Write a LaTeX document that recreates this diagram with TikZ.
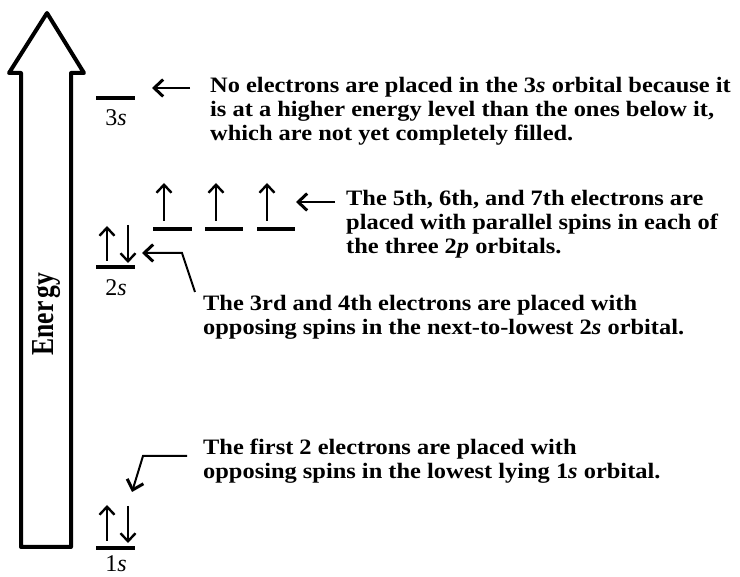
\documentclass[tikz,border=0pt]{standalone}
\usepackage{fontspec}
\setmainfont{Liberation Serif}
\newfontfamily\wtxt[FakeStretch=1.11]{Liberation Serif}
\usetikzlibrary{arrows.meta}
\begin{document}
\begin{tikzpicture}[x=1pt,y=-1pt,
  level/.style={line width=4pt},
  elec/.style={line width=2pt,-{Straight Barb[length=8pt,width=15pt,line width=2.4pt]}},
  ptr/.style={line width=2pt,line join=miter,-{Straight Barb[length=9pt,width=17pt,line width=3pt]}},
  txt/.style={font=\wtxt\bfseries\fontsize{22}{24}\selectfont, align=left, anchor=north west, inner sep=0pt},
  lab/.style={font=\fontsize{24}{26}\selectfont, anchor=base, inner sep=0pt}]
\useasboundingbox (0,0) rectangle (740,577);
% big energy arrow
\draw[line width=4pt, line join=round] (21,547) -- (21,73) -- (9,73) -- (47,13) -- (84,73) -- (71,73) -- (71,547) -- cycle;
\node[rotate=90, anchor=base, inner sep=0pt, font=\bfseries\fontsize{32}{32}\selectfont] (en) at (53,314) {\scalebox{0.8}[1]{Ener\hspace{4pt}gy}};
% levels
\coordinate (l3a) at (96,98);  \coordinate (l3b) at (135,98);
\coordinate (l2a) at (96,267); \coordinate (l2b) at (135,267);
\coordinate (l1a) at (96,548); \coordinate (l1b) at (135,548);
\coordinate (pa1) at (153,229); \coordinate (pb1) at (192,229);
\coordinate (pa2) at (205,229); \coordinate (pb2) at (243,229);
\coordinate (pa3) at (257,229); \coordinate (pb3) at (295,229);
\draw[level] (l3a) -- (l3b);
\draw[level] (l2a) -- (l2b);
\draw[level] (l1a) -- (l1b);
\draw[level] (pa1) -- (pb1);
\draw[level] (pa2) -- (pb2);
\draw[level] (pa3) -- (pb3);
\node[lab] (n3s) at (116,126) {3\textit{s}};
\node[lab] (n2s) at (116,296) {2\textit{s}};
\node[lab] (n1s) at (116,572) {1\textit{s}};
% electrons
\coordinate (e2u0) at (107,261); \coordinate (e2u1) at (107,226);
\coordinate (e2d0) at (128,225); \coordinate (e2d1) at (128,263);
\coordinate (e1u0) at (107,541); \coordinate (e1u1) at (107,505);
\coordinate (e1d0) at (128,506); \coordinate (e1d1) at (128,543);
\coordinate (p1u0) at (164,221); \coordinate (p1u1) at (164,183);
\coordinate (p2u0) at (216,221); \coordinate (p2u1) at (216,183);
\coordinate (p3u0) at (267,221); \coordinate (p3u1) at (267,183);
\draw[elec] (e2u0) -- (e2u1);
\draw[elec] (e2d0) -- (e2d1);
\draw[elec] (e1u0) -- (e1u1);
\draw[elec] (e1d0) -- (e1d1);
\draw[elec] (p1u0) -- (p1u1);
\draw[elec] (p2u0) -- (p2u1);
\draw[elec] (p3u0) -- (p3u1);
% texts
\node[txt] (t3) at (210,77) {No electrons are placed in the 3\textit{s} orbital because it\\is at a higher energy level than the ones below it,\\which are not yet completely filled.};
\node[txt] (t2p) at (346,190) {The 5th, 6th, and 7th electrons are\\placed with parallel spins in each of\\the three 2\textit{p} orbitals.};
\node[txt] (t2s) at (203,295) {The 3rd and 4th electrons are placed with\\opposing spins in the next-to-lowest 2\textit{s} orbital.};
\node[txt] (t1s) at (203,439) {The first 2 electrons are placed with\\opposing spins in the lowest lying 1\textit{s} orbital.};
% pointers
\coordinate (s3) at (190,88);  \coordinate (h3) at (152,88);
\coordinate (s2p) at (335,202); \coordinate (h2p) at (296,202);
\coordinate (s2s) at (195,292); \coordinate (k2s) at (182,253); \coordinate (h2s) at (142,253);
\coordinate (s1s) at (187,456); \coordinate (k1s) at (143,456); \coordinate (h1s) at (132,492);
\draw[ptr] (s3) -- (h3);
\draw[ptr] (s2p) -- (h2p);
\draw[ptr] (s2s) -- (k2s) -- (h2s);
\draw[ptr] (s1s) -- (k1s) -- (h1s);
\end{tikzpicture}
\end{document}
